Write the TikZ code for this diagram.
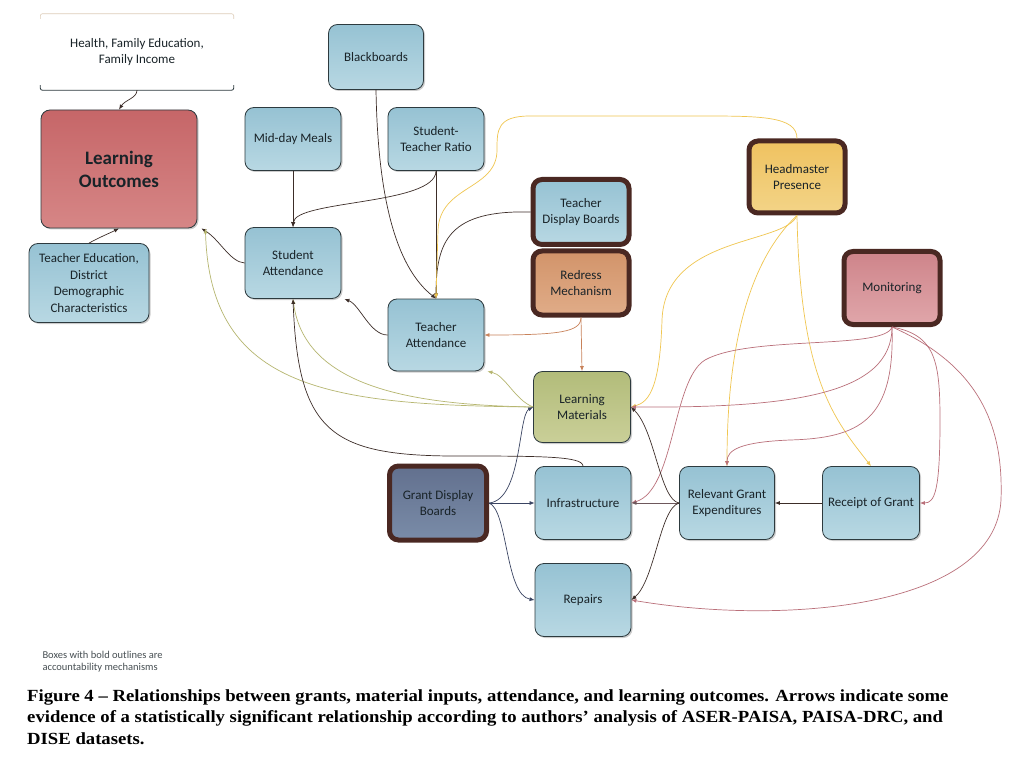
\documentclass[tikz,border=0pt]{standalone}
\usepackage{fontspec}
\setmainfont{Carlito}
\newfontfamily\capfont[FakeStretch=1.1]{Liberation Serif}
\usetikzlibrary{arrows.meta,shadows}
\definecolor{blueA}{RGB}{150,194,211}
\definecolor{blueB}{RGB}{184,216,227}
\definecolor{edge}{RGB}{45,58,62}
\definecolor{brn}{RGB}{74,40,34}
\definecolor{txt}{RGB}{25,35,40}
\definecolor{loA}{RGB}{198,102,104}
\definecolor{loB}{RGB}{214,134,134}
\definecolor{lmA}{RGB}{178,188,122}
\definecolor{lmB}{RGB}{202,207,152}
\definecolor{hmA}{RGB}{239,194,96}
\definecolor{hmB}{RGB}{243,212,135}
\definecolor{rdA}{RGB}{210,148,106}
\definecolor{rdB}{RGB}{224,172,136}
\definecolor{mnA}{RGB}{206,132,138}
\definecolor{mnB}{RGB}{224,166,170}
\definecolor{gdA}{RGB}{98,112,142}
\definecolor{gdB}{RGB}{122,140,168}
\definecolor{dk}{RGB}{60,45,40}
\definecolor{kh}{RGB}{182,182,112}
\definecolor{yl}{RGB}{240,198,80}
\definecolor{og}{RGB}{200,130,90}
\definecolor{mv}{RGB}{186,112,122}
\definecolor{sl}{RGB}{58,68,98}
\definecolor{gm}{RGB}{110,88,92}
\definecolor{beige}{RGB}{222,205,185}

\begin{document}
\begin{tikzpicture}[x=1pt,y=-1pt,
  box/.style={draw=edge,line width=0.8pt,rounded corners=9pt,align=center,inner sep=1pt,
    text=txt,font=\fontsize{13}{16.5}\selectfont,top color=blueA,bottom color=blueB,
    drop shadow={shadow xshift=1.5pt,shadow yshift=-1.5pt,opacity=0.2,fill=black}},
  acct/.style={draw=brn,line width=5pt},
  sz/.style 2 args={minimum width=#1pt,minimum height=#2pt},
  con/.style={line width=0.7pt,-{Latex[length=5pt,width=4pt]}}]
\useasboundingbox[fill=white] (0,0) rectangle (1025,759);

\node[sz={193}{76},align=center,text=txt,font=\fontsize{13}{16.5}\selectfont] (fam) at (137,52) {Health, Family Education,\\Family Income};
\draw[line width=0.6pt,beige,rounded corners=2pt] ([yshift=-5pt]fam.north west) |- (fam.north) -| ([yshift=-5pt]fam.north east);
\draw[line width=0.8pt,edge,rounded corners=2pt] ([yshift=5pt]fam.south west) |- (fam.south) -| ([yshift=5pt]fam.south east);

\node[box,sz={156}{118},top color=loA,bottom color=loB,font=\bfseries\fontsize{19}{23}\selectfont] (lo) at (119,169) {Learning\\Outcomes};
\node[box,sz={120}{79}] (ted) at (89,283) {Teacher Education,\\District\\Demographic\\Characteristics};
\node[box,sz={95}{65}] (bb) at (376,57) {Blackboards};
\node[box,sz={96}{63}] (mdm) at (293,139) {Mid-day Meals};
\node[box,sz={96}{63}] (str) at (436,139) {Student-\\Teacher Ratio};
\node[box,sz={96}{71}] (sa) at (293,263) {Student\\Attendance};
\node[box,sz={96}{72}] (ta) at (436,335) {Teacher\\Attendance};
\node[box,acct,sz={96}{65}] (tdb) at (581,212) {Teacher\\Display Boards};
\node[box,acct,sz={96}{64},top color=rdA,bottom color=rdB] (red) at (581,283) {Redress\\Mechanism};
\node[box,acct,sz={96}{72},top color=hmA,bottom color=hmB] (hm) at (797,177) {Headmaster\\Presence};
\node[box,acct,sz={96}{73},top color=mnA,bottom color=mnB] (mon) at (892,288) {Monitoring};
\node[box,sz={97}{71},top color=lmA,bottom color=lmB] (lm) at (582,407) {Learning\\Materials};
\node[box,acct,sz={97}{74},top color=gdA,bottom color=gdB] (gdb) at (438,503) {Grant Display\\Boards};
\node[box,sz={96}{73}] (inf) at (583,503) {Infrastructure};
\node[box,sz={95}{73}] (rge) at (727,503) {Relevant Grant\\Expenditures};
\node[box,sz={97}{73}] (rog) at (871,503) {Receipt of Grant};
\node[box,sz={96}{73}] (rep) at (583,600) {Repairs};

\node[align=left,text=txt!80,font=\fontsize{10.5}{12}\selectfont,anchor=north west] (note) at (39,648) {Boxes with bold outlines are\\accountability mechanisms};
\node[align=left,font=\capfont\bfseries\fontsize{17}{21.5}\selectfont,anchor=north west,inner sep=0pt] (cap) at (27,689) {Figure 4 – Relationships between grants, material inputs, attendance, and learning outcomes. Arrows indicate some\\evidence of a statistically significant relationship according to authors’ analysis of ASER-PAISA, PAISA-DRC, and\\DISE datasets.};

\draw[con,dk] (fam.south) .. controls (137,98) and (125,100) .. (lo.north);
\draw[con,dk] (ted.north) .. controls (100,237) and (110,233) .. (lo.south);
\draw[con,dk] (sa.west) .. controls (230,262) and (220,240) .. ([xshift=4pt]lo.south east);
\draw[con,kh] (lm.west) .. controls (330,405) and (210,390) .. ([xshift=8pt]lo.south east);
\draw[con,kh] (lm.west) .. controls (420,405) and (305,390) .. (sa.south);
\draw[con,kh] (lm.west) .. controls (515,400) and (505,375) .. ([xshift=3pt]ta.south east);
\draw[con,dk] (ta.west) .. controls (370,335) and (360,305) .. ([xshift=3pt]sa.south east);
\draw[con,dk] (mdm.south) -- (sa.north);
\draw[con,dk] (str.south) .. controls (436,205) and (295,200) .. (sa.north);
\draw[con,dk] (str.south) -- (ta.north);
\draw[con,dk] (bb.south) .. controls (378,210) and (400,270) .. (ta.north);
\draw[con,dk] (tdb.west) .. controls (450,210) and (436,240) .. (ta.north);
\draw[con,yl] (hm.north) .. controls (797,116) and (760,116) .. (700,116) -- (530,116) .. controls (497,116) and (497,130) .. (497,150) .. controls (497,190) and (440,185) .. (438,230) -- (ta.north);
\draw[con,og] (red.south) .. controls (581,332) and (560,335) .. (ta.east);
\draw[con,og] (red.south) -- (lm.north);
\draw[con,yl] (hm.south) .. controls (785,245) and (665,235) .. (662,320) .. controls (660,385) and (650,402) .. (lm.east);
\draw[con,yl] (hm.south) .. controls (760,250) and (727,320) .. (rge.north);
\draw[con,yl] (hm.south) .. controls (800,380) and (835,420) .. (rog.north);
\draw[con,mv] (mon.south) .. controls (892,395) and (790,408) .. (lm.east);
\draw[con,mv] (mon.south) .. controls (885,350) and (750,335) .. (705,360) .. controls (672,380) and (675,490) .. (inf.east);
\draw[con,mv] (mon.south) .. controls (895,420) and (860,438) .. (790,440) .. controls (740,442) and (727,450) .. (rge.north);
\draw[con,mv] (mon.south) .. controls (935,335) and (940,360) .. (940,420) .. controls (940,490) and (935,503) .. (rog.east);
\draw[con,mv] (mon.south) .. controls (990,370) and (1003,440) .. (1001,500) .. controls (995,610) and (780,625) .. (rep.east);
\draw[con,dk] (rog.west) -- (rge.east);
\draw[con,gm] (rge.west) -- (inf.east);
\draw[con,dk] (rge.west) .. controls (660,500) and (655,430) .. (lm.east);
\draw[con,dk] (rge.west) .. controls (660,508) and (655,580) .. (rep.east);
\draw[con,sl] (gdb.east) .. controls (522,500) and (518,415) .. (lm.west);
\draw[con,sl] (gdb.east) -- (inf.west);
\draw[con,sl] (gdb.east) .. controls (508,510) and (505,595) .. (rep.west);
\draw[con,dk] (inf.north) .. controls (583,456) and (540,456) .. (450,456) .. controls (330,455) and (298,430) .. (sa.south);
\end{tikzpicture}
\end{document}
